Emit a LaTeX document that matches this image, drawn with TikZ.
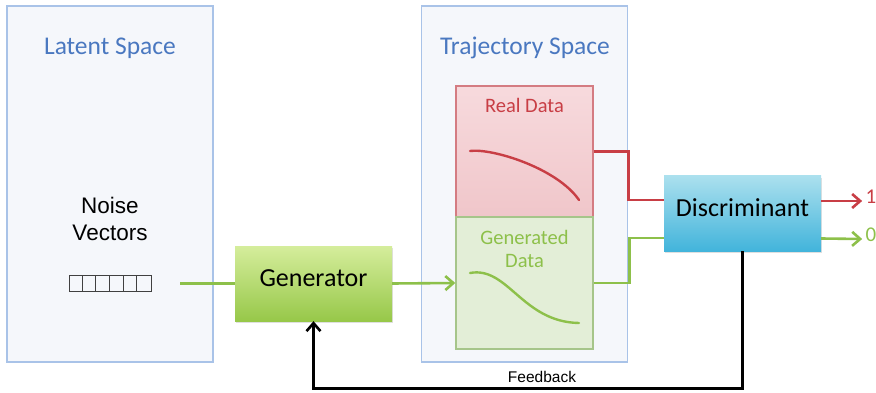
\documentclass[tikz,border=0pt]{standalone}
\usepackage{fontspec}
\setmainfont{Carlito}
\newfontfamily\helvfont{Liberation Sans}
\usetikzlibrary{arrows.meta,shadows,positioning}

\definecolor{spaceblue}{HTML}{4A78C0}
\definecolor{spaceedge}{HTML}{A9C3E8}
\definecolor{spacefill}{HTML}{F5F7FB}
\definecolor{realred}{HTML}{C83E45}
\definecolor{realedge}{HTML}{D47C82}
\definecolor{realtop}{HTML}{F7DADD}
\definecolor{realbottom}{HTML}{F0C6CA}
\definecolor{genegreen}{HTML}{8DC04A}
\definecolor{geneedge}{HTML}{A6C58A}
\definecolor{genefill}{HTML}{E3EED7}
\definecolor{gentop}{HTML}{D5ED9C}
\definecolor{genbottom}{HTML}{97C849}
\definecolor{distop}{HTML}{ABE0EE}
\definecolor{disbottom}{HTML}{42B4DB}

\tikzset{
  space/.style={
    % The shape:
    rectangle,
    minimum width=206pt, minimum height=356pt,
    % The border:
    draw=spaceedge, line width=1.2pt,
    % The filling:
    fill=spacefill},
  spacetitle/.style={
    text=spaceblue,
    font=\fontsize{25.5}{30}\selectfont},
  databox/.style={
    % The shape:
    rectangle,
    minimum width=137pt, minimum height=131pt,
    % The rest
    line width=1.4pt},
  block/.style={
    % The shape:
    rectangle,
    minimum width=157pt, minimum height=75pt,
    % The rest
    draw=none,
    drop shadow={opacity=0.25,shadow xshift=1pt,shadow yshift=-2pt},
    font=\fontsize{26}{30}\selectfont},
  vector/.style={
    rectangle,
    minimum width=82pt, minimum height=13pt,
    draw=black!75, line width=1pt},
  wire/.style={line width=2.6pt},
  tip/.style={-{Straight Barb[length=8pt,width=14pt,line width=2.6pt]}}
}

\begin{document}
\begin{tikzpicture}[x=1pt,y=-1pt,text height=1.5ex,text depth=.25ex]
  \useasboundingbox (0,0) rectangle (876,393);

  % The two spaces:
  \node (latent) [space] at (110,184) {};
  \node (traj)   [space] at (524.5,184) {};
  \node (latenttitle) [spacetitle] at (110,52) {Latent Space};
  \node (trajtitle)   [spacetitle] at (525,52) {Trajectory Space};

  % Latent side:
  \node (noise) [align=center,text height=,text depth=,
                 font=\helvfont\fontsize{22.5}{27}\selectfont] at (110,219) {Noise\\Vectors};
  \node (vec) [vector] at (110,283.5) {};
  \foreach \i in {1,...,5}
    \draw[black!75,line width=1pt] ([xshift=\i*13.67pt]vec.north west) -- ([xshift=\i*13.67pt]vec.south west);
  \coordinate (vecout) at (180,283.5);

  % Trajectory side:
  \node (real) [databox,draw=realedge,top color=realtop,bottom color=realbottom] at (524.5,151.5) {};
  \node (gen)  [databox,draw=geneedge,fill=genefill,minimum height=132pt] at (524.5,283) {};
  \node (realtext) [text=realred,font=\fontsize{20.5}{24}\selectfont] at (524.5,110) {Real Data};
  \node (gentext)  [text=genegreen,align=center,text height=,text depth=,
                    font=\fontsize{20.5}{23}\selectfont] at (524.5,249) {Generated\\Data};
  \draw[realred,line width=2.4pt,line cap=round] (470,151) .. controls (492,148) and (557,168) .. (579,200);
  \draw[genegreen,line width=2.4pt,line cap=round] (470,273) .. controls (508,266) and (522,322) .. (579,323);

  % The two networks:
  \node (generator) [block,top color=gentop,bottom color=genbottom] at (313.5,283.5) {Generator};
  \node (discr) [block,top color=distop,bottom color=disbottom] at (742.5,213.5) {Discriminant};

  % Outputs:
  \node (one)  [text=realred,font=\fontsize{21}{24}\selectfont] at (871,201) {1};
  \node (zero) [text=genegreen,font=\fontsize{21}{24}\selectfont] at (871,239) {0};
  \node (fb) [font=\helvfont\fontsize{15.5}{18}\selectfont] at (542,380) {Feedback};

  % Connections:
  \draw[wire,genegreen] (vecout) -- (generator.west);
  \draw[wire,genegreen,tip] (generator.east) -- (gen.west);
  \draw[wire,realred] (real.east) -- ++(35,0) |- ([yshift=13.5pt]discr.west);
  \draw[wire,genegreen] (gen.east) -- ++(36,0) |- ([yshift=-24.5pt]discr.west);
  \draw[wire,realred,tip] ([yshift=12.5pt]discr.east) -- (one.west);
  \draw[wire,genegreen,tip] ([yshift=-25pt]discr.east) -- (zero.west);
  \draw[line width=2.8pt,tip] (discr.south) -- ++(0,137) -| (generator.south);

\end{tikzpicture}
\end{document}
